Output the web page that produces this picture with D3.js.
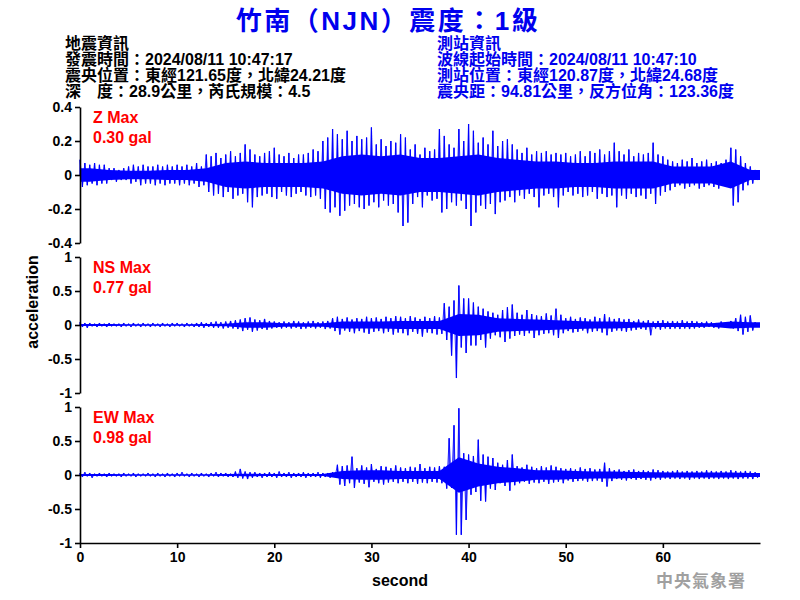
<!DOCTYPE html>
<html><head><meta charset="utf-8">
<script src="https://cdn.jsdelivr.net/npm/d3@7"></script>
<style>body{margin:0;background:#fff}svg{display:block}</style>
</head><body><svg id="c" width="800" height="600"></svg>
<script>
// ---- data (peak high / low per 0.5 s bin) ----
const binSeconds = 0.5;
const zHi = [.09,.07,.06,.07,.06,.06, .04,.04,.03,.04,
 .05,.06,.05,.06,.05,.05,.06,.05,.06,.05,.06,.05,.06,.05,.07,.05,
 .12,.11,.13,.10,.12,.14,.11,.13,.18,.15,.12,.11,.13,.14,.16,.12,.11,.13,.10,.12,
 .12,.13,.15,.14, .20,.22,.27,.24,.21,.26,
 .20,.23,.21,.22,.28,.18,.21,.17,.20,.19, .24,.22, .15,.18,.12,.16,.14,.15,
 .27,.23, .18,.16, .27,.20, .30,.26, .19,.22,.18, .26,.17, .20,.21,.18,
 .15,.13,.16,.12,.14,.13, .14,.12,.13,.12, .13,.11,.12,.14,.11,.14,
 .13,.15,.12,.14,.19, .14,.12,.15,.11,.13,.12,.13, .19,.12, .11,.09,
 .08,.07,.09,.08,.10,.07,.08,.09,.07,.08,.07,.09, .16,.15,.11, .07,.05,.03];
const zLo = [-.07,-.06,-.05,-.06,-.05,-.05, -.03,-.04,-.03,-.03,
 -.05,-.04,-.06,-.05,-.05,-.06,-.05,-.06,-.05,-.05,-.06,-.05,-.06,-.05,-.07,-.06,
 -.10,-.12,-.11,-.13,-.10,-.14,-.12,-.11,-.16,-.19,-.13,-.12,-.11,-.13,-.14,-.10,-.12,-.13,-.11,-.10,
 -.12,-.13,-.12,-.14, -.20,-.22,-.19,-.24,-.21,-.18,
 -.17,-.19,-.20,-.18,-.16,-.19,-.15,-.18,-.17,-.22, -.30,-.28, -.17,-.13,-.19,-.12,-.15,-.14,
 -.22,-.20, -.16,-.18, -.15,-.20, -.30,-.22, -.18,-.20,-.17, -.23,-.16, -.15,-.13,-.16,
 -.12,-.14,-.11,-.13,-.19,-.12, -.11,-.13,-.19,-.12, -.10,-.12,-.11,-.13,-.12,-.10,
 -.14,-.11,-.13,-.12,-.19, -.12,-.14,-.11,-.13,-.12,-.14,-.11, -.17,-.12, -.10,-.09,
 -.07,-.06,-.08,-.07,-.06,-.08,-.07,-.06,-.07,-.08,-.06,-.07, -.18,-.16,-.09, -.06,-.05,-.03];
const nsHi = [.04,.03,.03,.02,.03,.02,.03,.02,.02,.03,.02,.03,.02,.03,.02,.03,.02,.03,.02,.03,.03,.02,.03,.02,
 .03,.04,.03,.04,.05,.04,.05,.06, .07,.08,.10,.11,.08,.07,.09,.06,
 .05,.04,.05,.04,.06,.05,.04,.05,.06,.04,.05,.06,
 .10,.12,.09,.11,.08,.10,.09,.12,.10,.11,.09,.12,.10,.13,
 .12,.10,.13,.11,.09,.12,.10,.13,.11,
 .32,.27,.36,.58,.39,.39,.33, .27,.24,.20, .18,.15,.22,.26,.30,
 .18,.15,.22,.16,.14,.13,.17,.14,.24,.15,
 .10,.12,.09,.11,.10,.08,.12,.10,.16,.11,.09,.10,.08,.09,
 .06,.08,.06,.07,.05,.06,.07,.05,.06,.05,.07,.05,.06,.05,
 .04,.05,.04,.03,.05,.04,.06, .10,.15,.12,.14,.04];
const nsLo = [-.03,-.04,-.02,-.03,-.02,-.03,-.02,-.02,-.03,-.02,-.03,-.02,-.03,-.02,-.03,-.02,-.03,-.02,-.03,-.02,-.02,-.03,-.02,-.03,
 -.03,-.04,-.03,-.04,-.04,-.05,-.04,-.05, -.06,-.09,-.07,-.10,-.08,-.06,-.07,-.05,
 -.04,-.05,-.04,-.05,-.04,-.06,-.05,-.04,-.05,-.04,-.06,-.05,
 -.09,-.14,-.08,-.10,-.12,-.09,-.11,-.13,-.10,-.09,-.12,-.10,-.14,-.11,
 -.12,-.15,-.10,-.13,-.17,-.11,-.12,-.14,-.13,
 -.22,-.45,-.78,-.33,-.41,-.30,-.30, -.22,-.33,-.20, -.15,-.18,-.25,-.20,-.16,
 -.14,-.16,-.12,-.19,-.15,-.13,-.12,-.15,-.19,-.12,
 -.09,-.11,-.10,-.08,-.12,-.10,-.09,-.11,-.15,-.10,-.08,-.09,-.10,-.08,
 -.07,-.06,-.07,-.15,-.05,-.07,-.05,-.06,-.05,-.06,-.05,-.06,-.05,-.04,
 -.04,-.03,-.04,-.05,-.03,-.04,-.05, -.09,-.14,-.10,-.08,-.03];
const ewHi = [.03,.04,.03,.02,.03,.02,.03,.02,.02,.03,.02,.03,.02,.02,.03,.02,.03,.02,.03,.02,.03,.04,.02,.03,.02,.03,.02,.03,.04,.03,.03,.02,
 .05,.09,.05,.04,
 .04,.03,.03,.04,.03,.05,.03,.04,.03,.03,.04,.03,.03,.04,.03,.03,.04,
 .15,.13,.14,.27, .10,.14,.11,.16,.09,.13,.12,.10,.14,
 .11,.10,.12,.11,.16,.10,.12,.11,.13,.12,
 .54,.73,.98,.32,.30,.28,.52,.30,.27,.25, .18,.15,.22,.30,
 .13,.11,.15,.12,.10,.13,.11,.14,.12,.10,
 .09,.10,.08,.11,.09,.10,.08,.09,.18,.10,
 .07,.08,.06,.07,.08,.06,.07,.06,.08,.07,
 .06,.05,.06,.07,.05,.06,.05,.06,.05,.07,.06,.05,.06,.05,.07,.06,.05,.06,.05,.04];
const ewLo = [-.03,-.02,-.04,-.02,-.02,-.03,-.02,-.02,-.03,-.02,-.02,-.03,-.02,-.02,-.02,-.03,-.02,-.03,-.02,-.03,-.02,-.02,-.03,-.02,-.03,-.02,-.03,-.02,-.03,-.02,-.03,-.03,
 -.04,-.05,-.06,-.04,
 -.03,-.04,-.03,-.03,-.04,-.03,-.03,-.04,-.03,-.03,-.04,-.03,-.03,-.04,-.03,-.04,-.03,
 -.14,-.16,-.12,-.19, -.11,-.13,-.18,-.10,-.12,-.14,-.11,-.10,-.12,
 -.10,-.12,-.10,-.13,-.11,-.12,-.10,-.11,-.12,-.20,
 -.19,-.88,-.88,-.66,-.29,-.25,-.38,-.39,-.20,-.22, -.12,-.16,-.23,-.15,
 -.12,-.10,-.13,-.11,-.12,-.10,-.13,-.11,-.10,-.12,
 -.08,-.10,-.09,-.08,-.10,-.09,-.08,-.10,-.17,-.09,
 -.06,-.07,-.08,-.06,-.07,-.06,-.07,-.08,-.06,-.07,
 -.05,-.06,-.05,-.06,-.05,-.07,-.05,-.06,-.05,-.06,-.05,-.06,-.05,-.06,-.05,-.06,-.05,-.05,-.06,-.04];

// half-width of the solid core of each trace, per 2 s bin
const coreSeconds = 2;
const zCore = [.04,.03,.025,.025,.03,.03,.04,.07,.08,.07,.07,.07,.08,.11,.12,.11,.12,.10,.10,.11,.12,.10,.09,.08,.08,.07,.07,.08,.08,.08,.05,.05,.05,.08,.03];
const nsCore = [.015,.015,.012,.012,.012,.012,.015,.02,.04,.04,.025,.025,.025,.05,.05,.05,.06,.06,.06,.16,.15,.1,.09,.08,.07,.06,.05,.05,.04,.03,.03,.03,.025,.05,.04];
const ewCore = [.015,.015,.012,.012,.012,.012,.012,.015,.02,.015,.015,.015,.015,.06,.07,.07,.06,.06,.06,.26,.17,.12,.1,.07,.07,.06,.05,.05,.045,.04,.035,.035,.035,.035,.03];

const channels = ["Z", "NS", "EW"];
const maxLabels = ["0.30 gal", "0.77 gal", "0.98 gal"];
const zTicks = [0.4, 0.2, 0, -0.2, -0.4];
const zTickLabels = ["0.4", "0.2", "0", "-0.2", "-0.4"];
const hTicks = [1, 0.5, 0, -0.5, -1];
const hTickLabels = ["1", "0.5", "0", "-0.5", "-1"];
const xTicks = [0, 10, 20, 30, 40, 50, 60];
const xTickLabels = ["0", "10", "20", "30", "40", "50", "60"];

const titleText = "竹南（NJN）震度：1級";
const quakeInfo = ["地震資訊", "發震時間：2024/08/11 10:47:17", "震央位置：東經121.65度，北緯24.21度", "深　度：28.9公里，芮氏規模：4.5"];
const stationInfo = ["測站資訊", "波線起始時間：2024/08/11 10:47:10", "測站位置：東經120.87度，北緯24.68度", "震央距：94.81公里，反方位角：123.36度"];

// ---- drawing ----
const svg = d3.select("#c");
const latin = "'Liberation Sans', Arial, 'Noto Sans CJK TC', sans-serif";
const x = d3.scaleLinear().domain([0, 70]).range([80, 760]);

svg.append("text").attr("x", 388).attr("y", 30).attr("text-anchor", "middle")
  .attr("font-family", latin).attr("font-weight", "bold").attr("font-size", 26)
  .attr("letter-spacing", 2.5).attr("fill", "#0000ee").text(titleText);

function block(lines, x0, color) {
  lines.forEach((t, i) => {
    svg.append("text").attr("x", x0).attr("y", 49 + i * 16)
      .attr("font-family", latin).attr("font-size", 16).attr("font-weight", "bold")
      .attr("fill", color).text(t);
  });
}
block(quakeInfo, 65, "#000");
block(stationInfo, 437, "#0000ee");

const panels = [
  {hi: zHi, lo: zLo, core: zCore, dom: [-0.4, 0.4], top: 107, ticks: zTicks, labels: zTickLabels},
  {hi: nsHi, lo: nsLo, core: nsCore, dom: [-1, 1], top: 257, ticks: hTicks, labels: hTickLabels},
  {hi: ewHi, lo: ewLo, core: ewCore, dom: [-1, 1], top: 407, ticks: hTicks, labels: hTickLabels}
];
const ph = 136;

panels.forEach((p, k) => {
  const y = d3.scaleLinear().domain(p.dom).range([p.top + ph, p.top]);
  // solid core band
  const cpts = [[0, p.core[0]]];
  p.core.forEach((v, j) => cpts.push([j * coreSeconds + coreSeconds / 2, v]));
  cpts.push([70, p.core[p.core.length - 1]]);
  const area = d3.area().x(d => x(d[0])).y0(d => y(-d[1])).y1(d => y(d[1]));
  svg.append("path").attr("d", area(cpts)).attr("fill", "#0000ff");
  // spikes: each bin's high and low peak
  let d = "";
  const y0 = y(0);
  p.hi.forEach((v, i) => {
    const t = i * binSeconds;
    d += `M${x(t)},${y0}L${x(t)},${y(v)}`;
    d += `M${x(t + binSeconds / 2)},${y0}L${x(t + binSeconds / 2)},${y(p.lo[i])}`;
  });
  svg.append("path").attr("d", d).attr("fill", "none")
    .attr("stroke", "#0000ff").attr("stroke-width", 1.2);
  // fine texture line
  const pts = [];
  p.hi.forEach((v, i) => {
    pts.push([i * binSeconds, v]);
    pts.push([i * binSeconds + binSeconds / 2, p.lo[i]]);
  });
  svg.append("path").attr("d", d3.line().x(d => x(d[0])).y(d => y(d[1]))(pts))
    .attr("fill", "none").attr("stroke", "#0000ff").attr("stroke-width", 0.8);

  const ax = d3.axisLeft(y).tickValues(p.ticks).tickSize(5).tickSizeOuter(0).tickPadding(3)
    .tickFormat((d, i) => p.labels[i]);
  const g = svg.append("g").attr("transform", "translate(80,0)").call(ax);
  g.selectAll("path,line").attr("stroke", "#000").attr("stroke-width", 1.6);
  g.selectAll("text").attr("font-family", latin).attr("font-weight", "bold")
    .attr("font-size", 14).attr("fill", "#000");

  svg.append("text").attr("x", 93).attr("y", p.top + 16).attr("fill", "#ff0000")
    .attr("font-family", latin).attr("font-weight", "bold").attr("font-size", 16)
    .text(channels[k] + " Max");
  svg.append("text").attr("x", 93).attr("y", p.top + 36).attr("fill", "#ff0000")
    .attr("font-family", latin).attr("font-weight", "bold").attr("font-size", 16)
    .text(maxLabels[k]);
});

const xa = d3.axisBottom(x).tickValues(xTicks).tickSize(5).tickSizeOuter(0).tickPadding(4)
  .tickFormat((d, i) => xTickLabels[i]);
const gx = svg.append("g").attr("transform", "translate(0,543)").call(xa);
gx.selectAll("path,line").attr("stroke", "#000").attr("stroke-width", 1.6);
gx.selectAll("text").attr("font-family", latin).attr("font-weight", "bold")
  .attr("font-size", 14).attr("fill", "#000");

svg.append("text").attr("x", 400).attr("y", 586).attr("text-anchor", "middle")
  .attr("font-family", latin).attr("font-weight", "bold").attr("font-size", 16).text("second");
svg.append("text").attr("transform", "translate(38,302) rotate(-90)").attr("text-anchor", "middle")
  .attr("font-family", latin).attr("font-weight", "bold").attr("font-size", 16).text("acceleration");
svg.append("text").attr("x", 701).attr("y", 587).attr("text-anchor", "middle")
  .attr("font-family", "'Noto Sans CJK TC', sans-serif").attr("font-weight", "bold")
  .attr("font-size", 17).attr("letter-spacing", 1).attr("fill", "#a0a0a0").text("中央氣象署");
</script></body></html>
